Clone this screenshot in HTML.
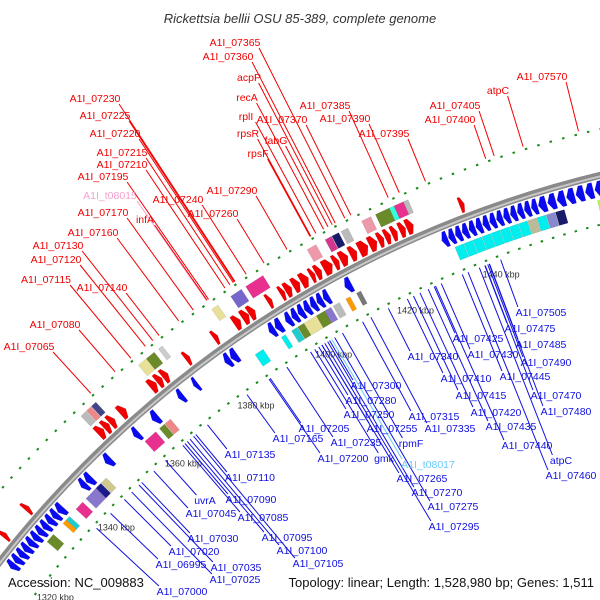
<!DOCTYPE html>
<html><head><meta charset="utf-8"><style>
html,body{margin:0;padding:0;background:#fff;width:600px;height:600px;overflow:hidden}
svg{display:block}
text{font-family:"Liberation Sans",sans-serif}
</style></head><body>
<svg id="map" width="600" height="600" viewBox="0 0 600 600" xmlns="http://www.w3.org/2000/svg">
<text x="300" y="23" text-anchor="middle" font-size="13" font-style="italic" fill="#333">Rickettsia bellii OSU 85-389, complete genome</text>
<g id="ticks"></g><g id="lines"></g><g id="backbone"></g><g id="genes"></g><g id="labels"></g>
<text x="8" y="587" font-size="13" fill="#111">Accession: NC_009883</text>
<text x="594" y="587" text-anchor="end" font-size="13" fill="#111">Topology: linear; Length: 1,528,980 bp; Genes: 1,511</text>
</svg>
<script>
const fwdStart=[1323,1330,1351,1352.7,1354.2,1357,1365,1366.7,1368.2,1374,1381,1386,1388,1389.6,1394,1397,1398.2,1400,1401.8,1404,1405.2,1407,1409.3,1410.8,1413,1415,1417.3,1419.3,1420.8,1422.3,1424,1425.5,1437];
const fwdEnd=[1324,1331,1352.5,1354,1355.5,1358.5,1366.5,1368,1369.5,1375,1382,1387.5,1389.5,1391,1395,1398,1399.6,1401.5,1403.5,1405,1406.5,1409,1410.5,1412.5,1414.5,1417,1419,1420.5,1422,1423.5,1425.3,1427,1438];
const revStart=[1319,1320.5,1322,1323.5,1325,1326.5,1328,1329.5,1331,1332.5,1334,1341,1342.5,1348,1356,1361,1368,1372,1380,1381.5,1391,1392.5,1395,1396.5,1398,1399.5,1401,1402.5,1404,1409,1431,1432.5,1434,1435.5,1437,1438.5,1440,1441.5,1443,1444.5,1446,1447.5,1449,1450.5,1452,1454,1456,1458,1460,1462,1464,1466,1468];
const revEnd=[1320.3,1321.8,1323.3,1324.8,1326.3,1327.8,1329.3,1330.8,1332.3,1333.8,1335.5,1342.3,1344,1349.5,1357.3,1362.5,1369.2,1373,1381.3,1383,1392.3,1394,1396.3,1397.8,1399.3,1400.8,1402.3,1403.8,1405.3,1410.5,1432.3,1433.8,1435.3,1436.8,1438.3,1439.8,1441.3,1442.8,1444.3,1445.8,1447.3,1448.8,1450.3,1451.8,1453.7,1455.7,1457.7,1459.7,1461.7,1463.7,1465.7,1467.7,1470];
const boxStart=[1351,1352.5,1353.8,1366,1368,1371,1384,1388.5,1392,1406,1410,1411.5,1413.5,1418,1421,1424,1425,1427,1469,1328,1333,1334,1337,1340,1343,1344.5,1357,1361,1362.5,1386,1392.5,1395,1396.5,1398,1401,1403,1405,1408,1410.5,1433,1435,1437,1439,1441,1443,1445,1447,1449,1451,1453,1455,1464,1466,1467];
const boxEnd=[1352.4,1353.7,1355,1368,1370,1372,1385.5,1391,1396,1408,1411.4,1413,1415,1420,1424,1425,1427,1428,1471,1330,1334,1335,1339,1343,1344.4,1346,1360,1362.4,1364,1388,1393.5,1396.4,1398,1401,1403,1404.5,1406.5,1409,1411.5,1434.9,1436.9,1438.9,1440.9,1442.9,1444.9,1446.9,1448.9,1450.9,1452.9,1454.9,1456.9,1466,1467,1468];
const boxColor=["#bbb","#e88","#448","#e8e099","#6b8a2a","#ccc","#e8e099","#7766cc","#e8308e","#e9a","#d4368e","#1a1a6a","#bbb","#e9a","#6b8a2a","#3fd","#e8308e","#bbb","#6b8a2a","#6b8a2a","#f90","#2cc","#e8308e","#8877cc","#1a1a8a","#cfc890","#e8308e","#6b8a2a","#e88","#0ee","#0ee","#2cc","#6b8a2a","#e8e099","#6b8a2a","#8877cc","#bbb","#f90","#777","#0ee","#0ee","#0ee","#0ee","#0ee","#0ee","#0ee","#0ee","#bb9","#0ee","#88c","#1a1a6a","#af3","#e88","#af3"];
const boxStrand=[1,1,1,1,1,1,1,1,1,1,1,1,1,1,1,1,1,1,1,-1,-1,-1,-1,-1,-1,-1,-1,-1,-1,-1,-1,-1,-1,-1,-1,-1,-1,-1,-1,-1,-1,-1,-1,-1,-1,-1,-1,-1,-1,-1,-1,-1,-1,-1];
const tickKbp=[1320,1340,1360,1380,1400,1420,1440];
const redNames=["A1I_07365","A1I_07360","acpP","recA","rplI","rpsR","A1I_07370","fabG","rpsF","A1I_07385","A1I_07390","A1I_07395","A1I_07400","A1I_07405","atpC","A1I_07570","A1I_07230","A1I_07225","A1I_07220","A1I_07215","A1I_07210","A1I_07195","A1I_t08015","A1I_07240","A1I_07290","A1I_07170","infA","A1I_07260","A1I_07160","A1I_07130","A1I_07120","A1I_07115","A1I_07140","A1I_07080","A1I_07065"];
const redX=[235,228,249,247,246,248,282,276,258,325,345,384,450,455,498,542,95,105,115,122,122,103,110,178,232,103,145,213,93,58,56,46,102,55,29];
const redY=[46,60,81,101,120,137,123,144,157,109,122,137,123,109,94,80,102,119,137,156,168,180,199,203,194,216,223,217,236,249,263,283,291,328,350];
const blueNames=["A1I_07505","A1I_07475","A1I_07425","A1I_07485","A1I_07430","A1I_07340","A1I_07490","A1I_07410","A1I_07445","A1I_07300","A1I_07415","A1I_07470","A1I_07280","A1I_07420","A1I_07480","A1I_07250","A1I_07315","A1I_07435","A1I_07165","A1I_07205","A1I_07255","A1I_07335","A1I_07235","rpmF","A1I_07440","A1I_07135","A1I_07200","gmk","atpC","A1I_t08017","A1I_07460","A1I_07110","A1I_07265","A1I_07270","A1I_07090","A1I_07045","uvrA","A1I_07085","A1I_07275","A1I_07295","A1I_07030","A1I_07095","A1I_07020","A1I_07100","A1I_07105","A1I_06995","A1I_07035","A1I_07025","A1I_07000"];
const blueX=[541,530,478,541,493,433,546,466,525,376,481,556,371,496,566,369,434,511,298,324,392,450,356,411,527,250,343,384,561,428,571,250,422,437,251,211,205,263,453,454,213,287,194,302,318,181,236,235,182];
const blueY=[316,332,342,348,358,360,366,382,380,389,399,399,404,416,415,418,420,430,442,432,432,432,446,447,449,458,462,462,464,468,479,481,482,496,503,517,504,521,510,530,542,541,555,554,567,568,571,583,595];
</script>
<script>
const CX=855, CY=1231, R=1086, NS='http://www.w3.org/2000/svg';
function ang(k){return (223.6+(k-1340)*0.261)*Math.PI/180;}
function P(r,k){const a=ang(k);return [CX+r*Math.cos(a),CY+r*Math.sin(a)];}
function el(t,a,parent){const e=document.createElementNS(NS,t);for(const k in a)e.setAttribute(k,a[k]);document.getElementById(parent).appendChild(e);return e;}
const b1=P(R,1300),b2=P(R,1480);
let bb=el('path',{d:`M${b1[0]},${b1[1]} A${R},${R} 0 0 1 ${b2[0]},${b2[1]}`,fill:'none',stroke:'#8a8a8a','stroke-width':7},'backbone');


const c1=P(R-1,1300),c2=P(R-1,1480);
let bb2=el('path',{d:`M${c1[0]},${c1[1]} A${R-1},${R-1} 0 0 1 ${c2[0]},${c2[1]}`,fill:'none',stroke:'#c8c8c8','stroke-width':2},'backbone');


for(let k=1318;k<=1475;k+=2.5){
  const big=Math.abs(k%10)<0.01;
  [R+45,R-48].forEach(r=>{
    const p1=P(r-(big?4:1),k),p2=P(r+(big?4:1),k);
    const d=el('line',{x1:p1[0],y1:p1[1],x2:p2[0],y2:p2[1],stroke:'#1a8a1a','stroke-width':2.5},'ticks');
    
    
  });
}
tickKbp.forEach(k=>{
  const p=P(R-66,k);
  const t=el('text',{x:p[0],y:p[1]+3,'text-anchor':'middle','font-size':9,fill:'#333'},'ticks');
  t.textContent=k+' kbp';
  
  
});
function sector(k1,k2,r1,r2,color,arrow,dir){
  let pts=[];
  if(arrow){
    const span=k2-k1, head=Math.min(span*0.5,0.9);
    if(dir>0){const kh=k2-head;pts=[P(r1,k1),P(r2,k1),P(r2,kh),P((r1+r2)/2,k2),P(r1,kh)];}
    else{const kh=k1+head;pts=[P((r1+r2)/2,k1),P(r2,kh),P(r2,k2),P(r1,k2),P(r1,kh)];}
  } else pts=[P(r1,k1),P(r2,k1),P(r2,k2),P(r1,k2)];
  return el('polygon',{points:pts.map(p=>p.join(',')).join(' '),fill:color,stroke:'rgba(0,0,0,0.15)','stroke-width':0.5},'genes');
}
fwdStart.forEach((s,i)=>{
  const g=sector(s,fwdEnd[i],R+5,R+21,'#f00000',true,1);
  
  
});
revStart.forEach((s,i)=>{
  const g=sector(s,revEnd[i],R-21,R-5,'#0a0af0',true,-1);
  
  
});
boxStart.forEach((s,i)=>{
  const r1=boxStrand[i]>0?R+24:R-38, r2=r1+14;
  const g=sector(s,boxEnd[i],r1,r2,boxColor[i],false,0);
  
  
});
function addLabel(name,x,y,color,strand){
  const w=name.length*5.8;
  const t=el('text',{x:x,y:y,'text-anchor':'middle','font-size':10.5,fill:color},'labels');
  t.textContent=name;
  
  
  let sx,sy,r;
  if(strand>0){sx=x+w/2-2;sy=y+2;r=R+48;}else{sx=x-w/2+3;sy=y-9;r=R-52;}
  const a=Math.atan2(sy-CY,sx-CX);
  const ex=CX+r*Math.cos(a),ey=CY+r*Math.sin(a);
  const l=el('line',{x1:sx,y1:sy,x2:ex,y2:ey,stroke:color,'stroke-width':1},'lines');
  
  
}
redNames.forEach((n,i)=>addLabel(n,redX[i],redY[i],n.indexOf('t08')>=0?'#f4a0d0':'#f00000',1));
blueNames.forEach((n,i)=>addLabel(n,blueX[i],blueY[i],n.indexOf('t08')>=0?'#66ccff':'#1010e0',-1));
</script>
</body></html>
